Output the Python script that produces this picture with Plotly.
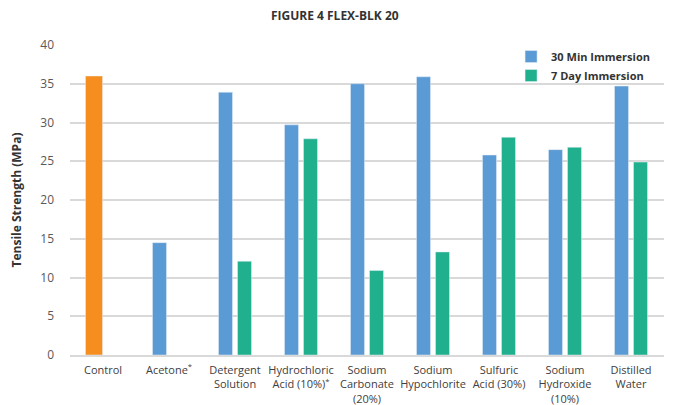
import plotly.graph_objects as go

categories = ["Control", "Acetone<sup>*</sup>", "Detergent<br>Solution", "Hydrochloric<br>Acid (10%)<sup>*</sup>",
              "Sodium<br>Carbonate<br>(20%)", "Sodium<br>Hypochlorite", "Sulfuric<br>Acid (30%)",
              "Sodium<br>Hydroxide<br>(10%)", "Distilled<br>Water"]
control_value = [36.0, None, None, None, None, None, None, None, None]
min30_values = [None, 14.5, 33.9, 29.7, 35.0, 35.9, 25.8, 26.5, 34.7]
day7_values = [None, None, 12.1, 27.9, 10.9, 13.3, 28.1, 26.8, 24.9]
y_ticks = [0, 5, 10, 15, 20, 25, 30, 35, 40]

BLUE = "#5B9BD5"
GREEN = "#21B08E"
ORANGE = "#F68D1F"

fig = go.Figure()
fig.add_trace(go.Bar(x=categories, y=control_value, marker_color=ORANGE, showlegend=False,
                     offset=-0.265, width=0.258, hoverinfo="y"))
fig.add_trace(go.Bar(x=categories, y=min30_values, name="30 Min Immersion", marker_color=BLUE,
                     offset=-0.25, width=0.212))
fig.add_trace(go.Bar(x=categories, y=day7_values, name="7 Day Immersion", marker_color=GREEN,
                     offset=0.038, width=0.212))

fig.update_layout(
    width=678, height=405,
    barmode="overlay",
    paper_bgcolor="white", plot_bgcolor="white",
    margin=dict(l=62, r=22, t=37, b=58, autoexpand=False),
    font=dict(family="Open Sans", color="#404040"),
    title=dict(text="<b>FIGURE 4 FLEX-BLK 20</b>", x=0.482, xanchor="center", y=0.98, yanchor="middle",
               font=dict(size=12, color="#333333", family="Open Sans")),
    legend=dict(xref="container", yref="container", x=0.742, y=0.916, xanchor="left", yanchor="top",
                bgcolor="rgba(0,0,0,0)",
                font=dict(size=11, color="#333333", family="Open Sans", weight="bold"),
                itemwidth=30, tracegroupgap=0),
    xaxis=dict(type="category", showline=True, linecolor="#d9d9d9", linewidth=1.5, automargin=False,
               tickfont=dict(size=11, color="#404040"), ticks="", ticklabelstandoff=4, showgrid=False),
    yaxis=dict(range=[0, 40], tickvals=y_ticks, showgrid=True, gridcolor="#d9d9d9", gridwidth=1.5,
               zeroline=False, ticks="", ticklabelstandoff=15, automargin=False,
               tickfont=dict(size=12, color="#595959"),
               title=dict(text="<b>Tensile Strength (MPa)</b>", font=dict(size=12, color="#333333"), standoff=19)),
)

fig.write_html("out.html")
